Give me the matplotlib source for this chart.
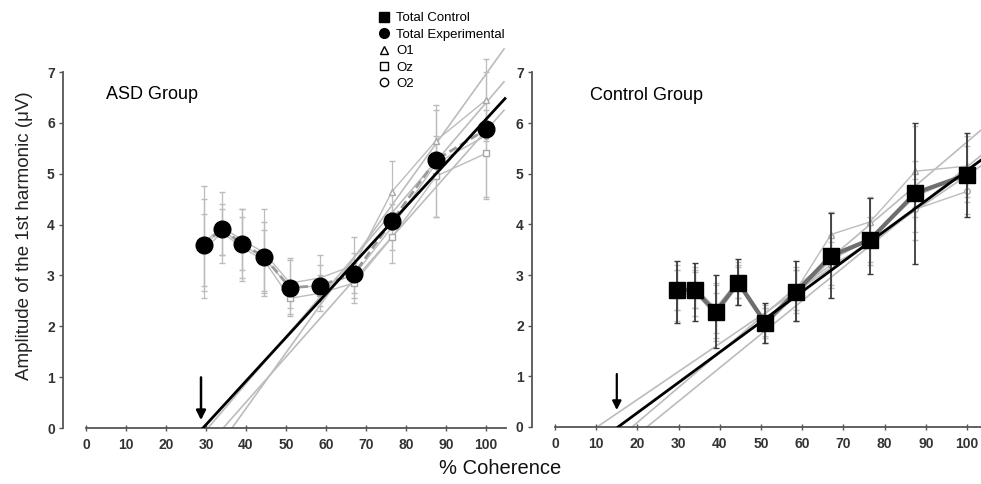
import matplotlib
matplotlib.use('Agg')
import matplotlib.pyplot as plt
from matplotlib.lines import Line2D

plt.rcParams['font.family'] = ['Liberation Sans', 'DejaVu Sans']

# coherence levels (%)
coherence = [29.5, 34, 39, 44.5, 51, 58.5, 67, 76.5, 87.5, 100]

# ASD group
asd_total = [3.6, 3.92, 3.62, 3.37, 2.76, 2.8, 3.03, 4.07, 5.27, 5.87]
asd_o1 = [3.65, 3.95, 3.7, 3.45, 2.85, 2.95, 3.2, 4.65, 5.65, 6.45]
asd_o1_err = [1.1, 0.7, 0.6, 0.85, 0.5, 0.45, 0.55, 0.6, 0.7, 0.8]
asd_oz = [3.5, 3.85, 3.55, 3.3, 2.55, 2.65, 2.85, 3.75, 4.95, 5.4]
asd_oz_err = [0.7, 0.45, 0.6, 0.6, 0.3, 0.35, 0.4, 0.5, 0.8, 0.85]
asd_o2 = [3.6, 3.9, 3.6, 3.35, 2.75, 2.8, 3.0, 3.95, 5.2, 5.75]
asd_o2_err = [0.9, 0.5, 0.7, 0.7, 0.55, 0.4, 0.45, 0.45, 1.05, 1.25]
asd_fit_x0 = 29.25
asd_fit_slope = 0.0858
asd_el_fit_x0 = [34.3, 36.5, 30.5]
asd_el_fit_slope = [0.089, 0.1096, 0.092]
asd_arrow_x = 28.75

# Control group
ctl_total = [2.7, 2.7, 2.27, 2.85, 2.06, 2.66, 3.38, 3.7, 4.62, 4.98]
ctl_hi = [3.28, 3.23, 3.0, 3.32, 2.45, 3.28, 4.22, 4.52, 6.0, 5.8]
ctl_lo = [2.05, 2.1, 1.55, 2.4, 1.65, 2.1, 2.55, 3.02, 3.22, 4.15]
ctl_o1 = [2.75, 2.75, 2.35, 2.9, 2.1, 2.7, 3.8, 4.05, 5.05, 5.15]
ctl_o1_err = [0.45, 0.4, 0.5, 0.35, 0.3, 0.45, 0.45, 0.5, 0.9, 0.6]
ctl_oz = [2.6, 2.65, 2.2, 2.8, 2.0, 2.6, 3.3, 3.7, 4.55, 5.0]
ctl_oz_err = [0.5, 0.45, 0.45, 0.4, 0.35, 0.5, 0.5, 0.45, 0.7, 0.55]
ctl_o2 = [2.7, 2.7, 2.25, 2.85, 2.05, 2.7, 3.2, 3.6, 4.3, 4.65]
ctl_o2_err = [0.4, 0.35, 0.55, 0.3, 0.3, 0.4, 0.45, 0.4, 0.6, 0.45]
ctl_fit_x0 = 15.3
ctl_fit_slope = 0.0598
ctl_el_fit_x0 = [10.2, 18.7, 22.3]
ctl_el_fit_slope = [0.0553, 0.0692, 0.0661]
ctl_arrow_x = 15.0

yticks = [0, 1, 2, 3, 4, 5, 6, 7]
xticks = [0, 10, 20, 30, 40, 50, 60, 70, 80, 90, 100]

fig = plt.figure(figsize=(9.81, 4.84), dpi=100)
ax1 = fig.add_axes([86 / 981, 56 / 484, 424 / 981, 386.5 / 484])
ax2 = fig.add_axes([555 / 981, 57 / 484, 426 / 981, 385 / 484])

gray = '#bcbcbc'
el_markers = ['^', 's', 'o']


def style_axis(ax, xmax, xbound):
    ax.set_xlim(0, xmax)
    ax.set_ylim(0, 7.6)
    for s in ['top', 'right']:
        ax.spines[s].set_visible(False)
    ax.spines['left'].set_position(('outward', 16.5))
    ax.spines['left'].set_bounds(0, 7)
    ax.spines['bottom'].set_bounds(0, xbound)
    for s in ['left', 'bottom']:
        ax.spines[s].set_color('#555555')
        ax.spines[s].set_linewidth(1.3)
    ax.set_yticks(yticks)
    ax.set_xticks(xticks)
    ax.tick_params(axis='y', direction='out', length=3, width=1, colors='#555555',
                   labelcolor='#333333', labelsize=10, pad=3)
    ax.tick_params(axis='x', direction='inout', length=4, width=1, colors='#555555',
                   labelcolor='#333333', labelsize=10, pad=5)
    for lab in ax.get_xticklabels() + ax.get_yticklabels():
        lab.set_fontweight('bold')


def draw_panel(ax, el_vals, el_errs, fit_x0s, fit_slopes, x_end):
    # electrode series in gray
    for vals, errs, mk in zip(el_vals, el_errs, el_markers):
        ax.errorbar(coherence, vals, yerr=errs, color=gray, lw=1, elinewidth=0.9,
                    capsize=2, marker=mk, ms=4, mfc='white', mec='#a8a8a8', zorder=2)
    # electrode fits
    for x0, k in zip(fit_x0s, fit_slopes):
        ax.plot([x0, x_end], [0, k * (x_end - x0)], color=gray, lw=1.2, zorder=1)


# ASD panel
draw_panel(ax1, [asd_o1, asd_oz, asd_o2], [asd_o1_err, asd_oz_err, asd_o2_err],
           asd_el_fit_x0, asd_el_fit_slope, 104.5)
ax1.plot(coherence, asd_total, color='#9a9a9a', lw=2, ls=(0, (3, 1.5)), zorder=3)
ax1.plot([asd_fit_x0, 104.75], [0, asd_fit_slope * (104.75 - asd_fit_x0)],
         color='black', lw=2, zorder=4)
ax1.plot(coherence, asd_total, ls='none', marker='o', ms=12, color='black', zorder=5)
ax1.annotate('', xy=(asd_arrow_x, 0.1), xytext=(asd_arrow_x, 1.05),
             arrowprops=dict(arrowstyle='-|>', color='black', lw=1.8,
                             mutation_scale=14))
ax1.text(5, 6.55, 'ASD Group', fontsize=13, va='center')
style_axis(ax1, 106, 105)

# Control panel
draw_panel(ax2, [ctl_o1, ctl_oz, ctl_o2], [ctl_o1_err, ctl_oz_err, ctl_o2_err],
           ctl_el_fit_x0, ctl_el_fit_slope, 103.5)
ctl_err = [[t - lo for t, lo in zip(ctl_total, ctl_lo)],
           [hi - t for t, hi in zip(ctl_total, ctl_hi)]]
ax2.errorbar(coherence, ctl_total, yerr=ctl_err, ls='none', ecolor='#3a3a3a',
             elinewidth=1.3, capsize=2.5, zorder=3)
ax2.plot(coherence, ctl_total, color='#6e6e6e', lw=3, zorder=3)
ax2.plot([ctl_fit_x0, 103.5], [0, ctl_fit_slope * (103.5 - ctl_fit_x0)],
         color='black', lw=2, zorder=4)
ax2.plot(coherence, ctl_total, ls='none', marker='s', ms=12, color='black', zorder=5)
ax2.annotate('', xy=(ctl_arrow_x, 0.28), xytext=(ctl_arrow_x, 1.1),
             arrowprops=dict(arrowstyle='-|>', color='black', lw=1.6,
                             mutation_scale=13))
ax2.text(8.5, 6.55, 'Control Group', fontsize=13, va='center')
style_axis(ax2, 103.4, 110)

# labels
fig.text(25 / 981, 0.514, 'Amplitude of the 1st harmonic (\u03bcV)', rotation=90,
         fontsize=13.5, va='center', ha='center', color='#222222')
fig.text(500 / 981, 1 - 468 / 484, '% Coherence', fontsize=14.5, va='center',
         ha='center', color='#111111')

# legend
handles = [
    Line2D([], [], ls='none', marker='s', ms=7, color='black'),
    Line2D([], [], ls='none', marker='o', ms=7, color='black'),
    Line2D([], [], ls='none', marker='^', ms=6, mfc='white', mec='black'),
    Line2D([], [], ls='none', marker='s', ms=6, mfc='white', mec='black'),
    Line2D([], [], ls='none', marker='o', ms=6, mfc='white', mec='black'),
]
labels = ['Total Control', 'Total Experimental', 'O1', 'Oz', 'O2']
fig.legend(handles, labels, loc='upper left', bbox_to_anchor=(379 / 981, 1 - 12 / 484),
           frameon=False, fontsize=9.5, handlelength=0.8, handletextpad=0.5,
           labelspacing=0.32, borderpad=0, borderaxespad=0)

fig.savefig('out.png', dpi=100, facecolor='white')
